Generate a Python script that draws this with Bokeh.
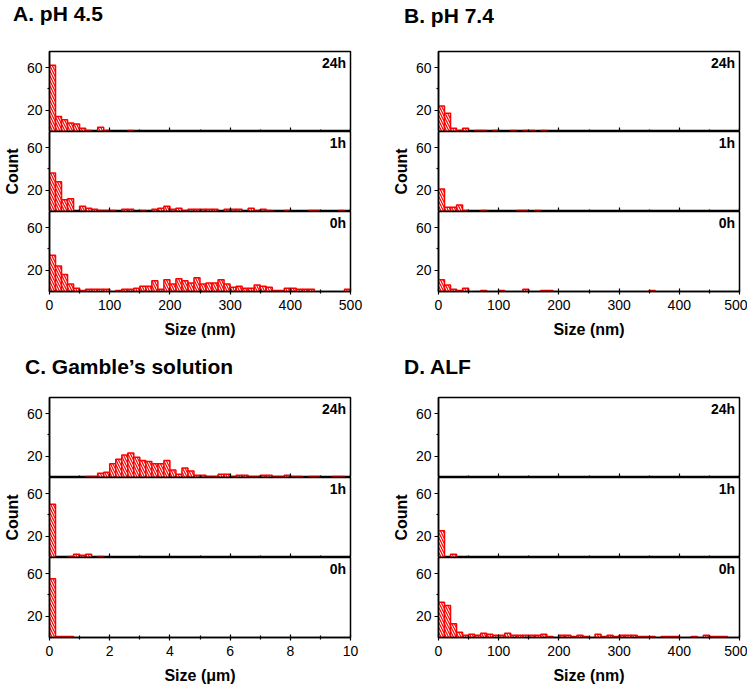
import numpy as np
from bokeh.plotting import figure
from bokeh.models import Range1d, FixedTicker, Label, ColumnDataSource, LinearAxis, Div
from bokeh.layouts import column, row
from bokeh.embed import file_html
from bokeh.resources import INLINE

FONT = "Liberation Sans"

# ---------------- data (counts per bin) ----------------
time_labels = ["24h", "1h", "0h"]
nm_bin_width = 10      # nm
um_bin_width = 0.2     # µm

A_24h = [62, 14, 11, 8, 7, 3, 1, 0, 4, 1,
         0, 0, 0, 1, 0, 0, 0, 0, 0, 0,
         0, 0, 0, 0, 0, 0, 0, 0, 0, 0,
         0, 0, 0, 0, 0, 0, 0, 0, 0, 0,
         0, 0, 0, 0, 0, 0, 0, 0, 0, 0]
A_1h = [36, 28, 11, 12, 0, 5, 3, 2, 1, 1,
        1, 0, 2, 2, 0, 1, 0, 2, 3, 5,
        2, 3, 1, 2, 2, 2, 2, 2, 0, 2,
        2, 2, 0, 3, 1, 2, 1, 0, 0, 1,
        0, 0, 0, 1, 1, 0, 0, 0, 1, 0]
A_0h = [34, 24, 16, 7, 3, 1, 2, 2, 2, 2,
        0, 1, 2, 2, 3, 5, 5, 10, 2, 11,
        7, 12, 10, 8, 13, 7, 8, 8, 11, 7,
        4, 5, 3, 3, 6, 5, 4, 1, 1, 3,
        3, 2, 2, 2, 0, 0, 0, 0, 0, 2]

B_24h = [24, 17, 3, 1, 3, 0, 1, 1, 0, 1,
         0, 0, 1, 0, 1, 1, 0, 1, 0, 0,
         0, 0, 0, 0, 0, 0, 0, 0, 0, 0,
         0, 0, 0, 0, 0, 0, 0, 0, 0, 0,
         0, 0, 0, 0, 0, 0, 0, 0, 0, 0]
B_1h = [21, 4, 4, 6, 1, 0, 0, 1, 0, 0,
        0, 0, 0, 1, 1, 0, 1, 0, 0, 0,
        0, 0, 0, 0, 0, 0, 0, 0, 0, 0,
        0, 0, 0, 0, 0, 0, 0, 0, 0, 0,
        0, 0, 0, 0, 0, 0, 0, 0, 0, 0]
B_0h = [11, 6, 2, 1, 3, 0, 0, 1, 0, 0,
        1, 0, 0, 0, 2, 0, 0, 1, 1, 0,
        0, 0, 0, 0, 0, 0, 0, 0, 0, 0,
        0, 0, 0, 0, 0, 1, 0, 0, 0, 0,
        0, 0, 0, 0, 0, 0, 0, 0, 0, 0]

C_24h = [0, 0, 0, 0, 0, 0, 1, 1, 4, 5,
         13, 17, 21, 23, 19, 16, 15, 13, 13, 16,
         7, 3, 9, 6, 2, 2, 1, 1, 3, 3,
         1, 2, 2, 1, 1, 2, 2, 1, 1, 2,
         1, 1, 0, 1, 1, 0, 0, 1, 1, 0]
C_1h = [50, 0, 0, 1, 3, 2, 3, 0, 1, 0,
        0, 0, 0, 0, 0, 0, 0, 0, 0, 0,
        0, 0, 0, 0, 0, 0, 0, 0, 0, 0,
        0, 0, 0, 0, 0, 0, 0, 0, 0, 0,
        0, 0, 0, 0, 0, 0, 0, 0, 0, 0]
C_0h = [55, 1, 1, 1, 0, 0, 0, 0, 0, 0,
        0, 0, 0, 0, 0, 0, 0, 0, 0, 0,
        0, 0, 0, 0, 0, 0, 0, 0, 0, 0,
        0, 0, 0, 0, 0, 0, 0, 0, 0, 0,
        0, 0, 0, 0, 0, 0, 0, 0, 0, 0]

D_24h = [0] * 50
D_1h = [25, 0, 3, 0, 0, 0, 0, 0, 0, 0,
        0, 0, 0, 0, 0, 0, 0, 0, 0, 0,
        0, 0, 0, 0, 0, 0, 0, 0, 0, 0,
        0, 0, 0, 0, 0, 0, 0, 0, 0, 0,
        0, 0, 0, 0, 0, 0, 0, 0, 0, 0]
D_0h = [33, 30, 13, 5, 2, 3, 2, 4, 3, 2,
        2, 4, 2, 2, 2, 2, 2, 3, 1, 0,
        2, 2, 1, 2, 1, 0, 3, 1, 2, 1,
        2, 2, 2, 1, 1, 1, 0, 1, 1, 1,
        0, 0, 1, 0, 2, 1, 1, 1, 0, 0]

nm_ticks = [0, 100, 200, 300, 400, 500]
nm_minor = [50, 150, 250, 350, 450]
um_ticks = [0, 2, 4, 6, 8, 10]
um_minor = [1, 3, 5, 7, 9]
y_ticks = [20, 60]
y_minor = [40]

panels = [
    dict(title="A. pH 4.5", xlabel="Size (nm)", series=[A_24h, A_1h, A_0h],
         bw=nm_bin_width, xmax=500, ticks=nm_ticks, minor=nm_minor, col=0, row=0),
    dict(title="B. pH 7.4", xlabel="Size (nm)", series=[B_24h, B_1h, B_0h],
         bw=nm_bin_width, xmax=500, ticks=nm_ticks, minor=nm_minor, col=1, row=0),
    dict(title="C. Gamble\u2019s solution", xlabel="Size (\u03bcm)", series=[C_24h, C_1h, C_0h],
         bw=um_bin_width, xmax=10, ticks=um_ticks, minor=um_minor, col=0, row=1),
    dict(title="D. ALF", xlabel="Size (nm)", series=[D_24h, D_1h, D_0h],
         bw=nm_bin_width, xmax=500, ticks=nm_ticks, minor=nm_minor, col=1, row=1),
]

# ---------------- layout geometry ----------------
FW, FH = 301, 80
LEFT = 47                      # left border of every column
RIGHT = {0: 39, 1: 10}         # right border per column
COLW = {c: LEFT + FW + RIGHT[c] for c in (0, 1)}
TITLE_H = {0: 30, 1: 39}       # height of the title strip above each row
TOP = {0: 21, 1: 15}           # border above the first subplot of each row
BOTTOM = {0: 52, 1: 52}        # border below the last subplot of each row
TITLE_PAD = {(0, 0): (2, 13), (0, 1): (4, 15), (1, 0): (12, 25), (1, 1): (12, 15)}
TICK_FS = "14px"


def title_div(panel):
    pt, pl = TITLE_PAD[(panel["row"], panel["col"])]
    html = ('<div style="padding:%dpx 0 0 %dpx; font-family:\'%s\'; font-size:21px; '
            'font-weight:bold; line-height:23px; color:black; white-space:nowrap;">%s</div>'
            % (pt, pl, FONT, panel["title"]))
    return Div(text=html, width=COLW[panel["col"]], height=TITLE_H[panel["row"]], margin=0)


def make_fig(panel, pos, counts, tlabel):
    top = pos == 0
    bottom = pos == 2
    p = figure(frame_width=FW, frame_height=FH,
               x_range=Range1d(0, panel["xmax"]), y_range=Range1d(0, 75),
               toolbar_location=None, output_backend="svg",
               min_border_left=LEFT, min_border_right=RIGHT[panel["col"]],
               min_border_top=TOP[panel["row"]] if top else 0,
               min_border_bottom=BOTTOM[panel["row"]] if bottom else 0,
               background_fill_color="white", border_fill_color="white")
    p.xgrid.visible = False
    p.ygrid.visible = False
    p.outline_line_color = "black"
    p.outline_line_width = 1.5
    p.outline_line_alpha = 1

    bw = panel["bw"]
    xs = [(i + 0.5) * bw for i, c in enumerate(counts) if c > 0]
    tops = [c for c in counts if c > 0]
    src = ColumnDataSource(dict(x=xs, top=tops))
    p.vbar(x="x", top="top", bottom=0, width=bw, source=src,
           fill_color="white", line_color="red", line_width=1.5,
           hatch_pattern="\\", hatch_color="red", hatch_scale=5, hatch_weight=1.2)

    xa = p.xaxis[0]
    xa.axis_line_width = 1.5
    xa.major_tick_line_width = 1.2
    xa.minor_tick_line_width = 1.2
    if bottom:
        xa.ticker = FixedTicker(ticks=panel["ticks"], minor_ticks=panel["minor"])
        xa.major_tick_in = 3
        xa.major_tick_out = 3
        xa.minor_tick_in = 2
        xa.minor_tick_out = 2
        xa.major_label_standoff = 5
        xa.major_label_text_font = FONT
        xa.major_label_text_font_size = TICK_FS
        xa.major_label_text_color = "black"
        xa.axis_label = panel["xlabel"]
        xa.axis_label_standoff = 8
        xa.axis_label_text_font = FONT
        xa.axis_label_text_font_style = "bold"
        xa.axis_label_text_font_size = "16px"
        xa.axis_label_text_color = "black"
    else:
        # inner ticks at the boundary between stacked subplots (no labels)
        xa.fixed_location = 0
        xa.ticker = FixedTicker(ticks=[], minor_ticks=panel["ticks"])
        xa.minor_tick_in = 4
        xa.minor_tick_out = 0
        xa.major_tick_in = 0
        xa.major_tick_out = 0
        xa2 = LinearAxis(fixed_location=0,
                         ticker=FixedTicker(ticks=[], minor_ticks=panel["minor"]),
                         minor_tick_in=2, minor_tick_out=0, major_tick_in=0,
                         major_tick_out=0, axis_line_width=1.5,
                         minor_tick_line_width=1.2)
        p.add_layout(xa2, "below")

    ya = p.yaxis[0]
    ya.ticker = FixedTicker(ticks=y_ticks, minor_ticks=y_minor)
    ya.axis_line_width = 1.5
    ya.major_tick_line_width = 1.2
    ya.minor_tick_line_width = 1.2
    ya.major_tick_in = 0
    ya.major_tick_out = 4
    ya.minor_tick_in = 0
    ya.minor_tick_out = 2
    ya.major_label_standoff = 3
    ya.major_label_text_font = FONT
    ya.major_label_text_font_size = TICK_FS
    ya.major_label_text_color = "black"
    if pos == 1:
        ya.axis_label = "Count"
        ya.axis_label_standoff = 3
        ya.axis_label_text_font = FONT
        ya.axis_label_text_font_style = "bold"
        ya.axis_label_text_font_size = "16px"
        ya.axis_label_text_color = "black"

    p.add_layout(Label(x=FW - 4.5, y=FH - 3, x_units="screen", y_units="screen",
                       text=tlabel, text_font=FONT, text_font_style="bold",
                       text_font_size="14px", text_align="right",
                       text_baseline="top", text_color="black"))
    return p


cols = {}
for panel in panels:
    figs = [make_fig(panel, i, s, t) for i, (s, t) in enumerate(zip(panel["series"], time_labels))]
    cols[(panel["row"], panel["col"])] = column(title_div(panel), *figs, spacing=0)

layout = column(row(cols[(0, 0)], cols[(0, 1)], spacing=0),
                row(cols[(1, 0)], cols[(1, 1)], spacing=0), spacing=0)

open("out.html", "w").write(file_html(layout, INLINE, title="Size distributions"))
